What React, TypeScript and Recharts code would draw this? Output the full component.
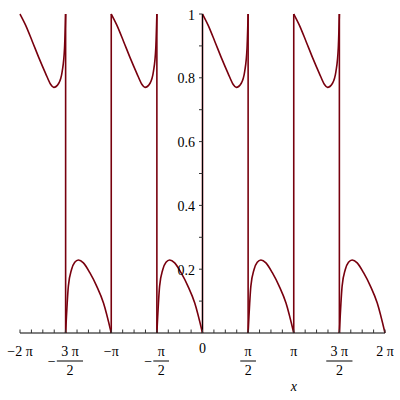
import React from "react";
import {
  LineChart,
  Line,
  XAxis,
  YAxis,
  ReferenceLine,
  ReferenceDot,
} from "recharts";

const HALF = Math.PI / 2;
const RED = "#78000E";
const FONT = "'Liberation Serif', 'Times New Roman', serif";

// each period starts at k·π: an upper branch on [kπ, kπ+π/2], a lower one on [kπ+π/2, (k+1)π]
const PERIOD_STARTS = [-2, -1, 0, 1];

// positions inside a branch, as a fraction of π/2, with the value read there
const UPPER_T = [0, 0.12, 0.27, 0.41, 0.56, 0.67, 0.74, 0.85, 0.925, 0.976, 1];
const UPPER_Y = [1.0, 0.966, 0.914, 0.864, 0.814, 0.78, 0.77, 0.783, 0.82, 0.893, 1.0];
const LOWER_T = [0, 0.06, 0.13, 0.2, 0.28, 0.39, 0.53, 0.68, 0.83, 1];
const LOWER_Y = [0, 0.147, 0.199, 0.222, 0.229, 0.22, 0.189, 0.147, 0.094, 0];

// multiples of π/2 where the plot joins the branches with a vertical segment
const JUMPS = [-3, -2, -1, 0, 1, 2, 3];

// x ticks every π/8, labelled every π/2
const X_TICKS = Array.from({ length: 33 }, (_, i) => ((i - 16) * Math.PI) / 8);
const X_TICK_LABELS = ["-2 π", "-3 π/2", "-π", "-π/2", "0", "π/2", "π", "3 π/2", "2 π"];

const Y_MAJOR = [0.2, 0.4, 0.6, 0.8, 1];
const Y_MINOR = [0.1, 0.3, 0.5, 0.7, 0.9];

const branch = (start: number, ts: number[], ys: number[]) =>
  ts.map((t, i) => ({ x: start + t * HALF, y: ys[i] }));

const segments = PERIOD_STARTS.flatMap((k) => [
  branch(k * Math.PI, UPPER_T, UPPER_Y),
  branch(k * Math.PI + HALF, LOWER_T, LOWER_Y),
]);

const jumps = JUMPS.map((m) => [
  { x: m * HALF, y: 0 },
  { x: m * HALF, y: 1 },
]);

const textW = (s: string) =>
  s.split("").reduce((w, c) => w + (c === " " ? 3.5 : c === "π" ? 7.7 : 7), 0);

function XTick(props: any) {
  const { x, y, payload } = props;
  const n = Math.round(payload.value / (Math.PI / 8));
  const tick = <line x1={x} x2={x} y1={y - 3.5} y2={y} stroke="#333" strokeWidth={1} />;
  if (n % 4 !== 0) return <g>{tick}</g>;
  const label = X_TICK_LABELS[n / 4 + 4];
  const neg = label.startsWith("-");
  const body = neg ? label.slice(1) : label;
  const txt = { fontFamily: FONT, fontSize: 14, fill: "#000" };

  if (body.includes("/")) {
    const [num, den] = body.split("/");
    const bar = textW(num) + 8;
    const cx = neg ? x + 4.3 : x;
    const barY = y + 28;
    return (
      <g>
        {tick}
        {neg && (
          <text x={cx - bar / 2 - 5} y={barY + 4.5} textAnchor="middle" {...txt}>
            −
          </text>
        )}
        <text x={cx} y={y + 23} textAnchor="middle" {...txt}>
          {num}
        </text>
        <line x1={cx - bar / 2} x2={cx + bar / 2} y1={barY} y2={barY} stroke="#000" strokeWidth={1} />
        <text x={cx} y={y + 42} textAnchor="middle" {...txt}>
          {den}
        </text>
      </g>
    );
  }
  return (
    <g>
      {tick}
      <text x={x} y={body === "0" ? y + 20 : y + 23} textAnchor="middle" {...txt}>
        {neg ? "−" + body : body}
      </text>
    </g>
  );
}

function YTick(props: any) {
  const { cx, cy, label } = props;
  return (
    <g>
      <line x1={cx - 3.5} x2={cx} y1={cy} y2={cy} stroke="#333" strokeWidth={1} />
      {label && (
        <text
          x={cx - 7.5}
          y={cy + 5.5}
          textAnchor="end"
          style={{ fontFamily: FONT, fontSize: 14 }}
          fill="#000"
        >
          {label}
        </text>
      )}
    </g>
  );
}

function XLabel(props: any) {
  const { viewBox } = props;
  return (
    <text
      x={viewBox.x + viewBox.width * 0.75}
      y={viewBox.y + 57.5}
      textAnchor="middle"
      fontFamily={FONT}
      fontStyle="italic"
      fontSize={14}
      fill="#000"
    >
      x
    </text>
  );
}

export default function App() {
  return (
    <div style={{ position: "absolute", left: 0, top: 0, width: 400, height: 400, background: "#fff" }}>
      <LineChart width={400} height={400} margin={{ top: 14, right: 15, left: 20, bottom: 7 }}>
        <XAxis
          dataKey="x"
          type="number"
          domain={[-2 * Math.PI, 2 * Math.PI]}
          ticks={X_TICKS}
          interval={0}
          tickSize={0}
          tickMargin={0}
          tickLine={false}
          tick={<XTick />}
          axisLine={{ stroke: "#000", strokeWidth: 1 }}
          height={60}
          label={<XLabel />}
        />
        <YAxis type="number" domain={[0, 1]} hide />
        {segments.map((seg, i) => (
          <Line
            key={"s" + i}
            data={seg}
            dataKey="y"
            type="monotone"
            stroke={RED}
            strokeWidth={1.6}
            dot={false}
            isAnimationActive={false}
          />
        ))}
        {jumps.map((seg, i) => (
          <Line
            key={"j" + i}
            data={seg}
            dataKey="y"
            type="linear"
            stroke={RED}
            strokeWidth={1.6}
            dot={false}
            isAnimationActive={false}
          />
        ))}
        <ReferenceLine x={0} stroke="#000" strokeWidth={1} />
        {Y_MINOR.map((v) => (
          <ReferenceDot key={"m" + v} x={0} y={v} shape={(p: any) => <YTick {...p} />} />
        ))}
        {Y_MAJOR.map((v) => (
          <ReferenceDot key={"M" + v} x={0} y={v} shape={(p: any) => <YTick {...p} label={String(v)} />} />
        ))}
      </LineChart>
    </div>
  );
}
